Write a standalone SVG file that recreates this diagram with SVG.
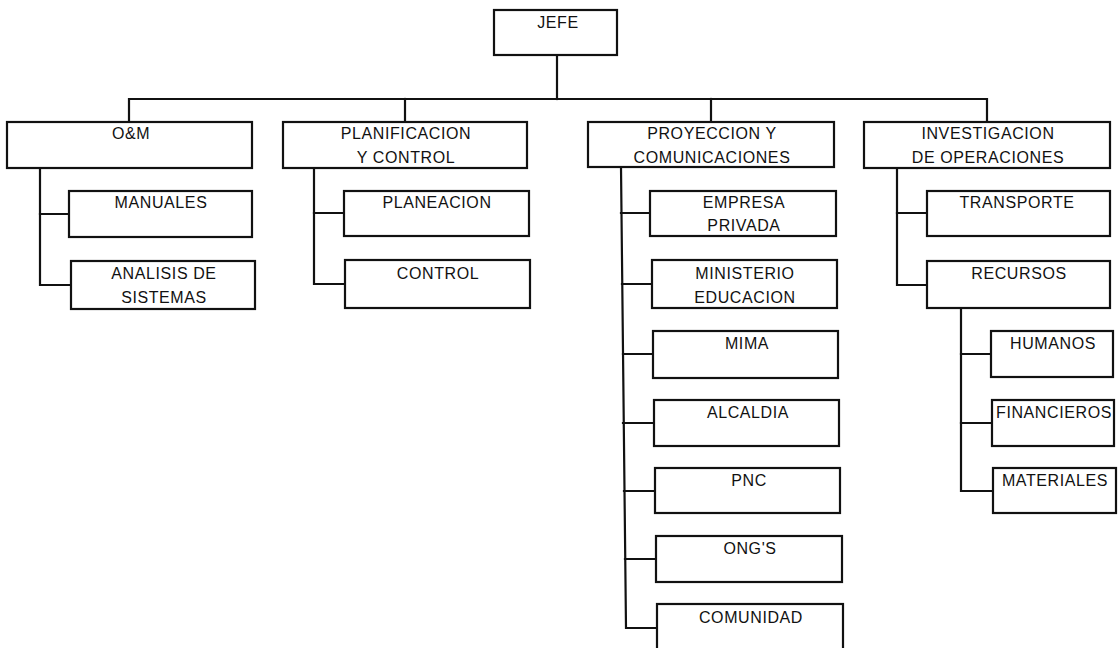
<svg xmlns="http://www.w3.org/2000/svg" width="1120" height="648" viewBox="0 0 1120 648">
  <style>
    .box { fill: #ffffff; stroke: #111111; stroke-width: 2.2; }
    .lbl { font-family: "Liberation Sans", Arial, sans-serif; font-size: 16px; letter-spacing: 0.6px; fill: #111111; text-anchor: middle; }
    .wire { fill: none; stroke: #111111; stroke-width: 2.2; stroke-linecap: square; }
  </style>
  <rect width="1120" height="648" fill="#ffffff"/>

  <!-- connectors -->
  <g id="connectors" class="wire">
    <!-- top level -->
    <path d="M557,55 V99"/>
    <path d="M129,122 V99 H987 V122"/>
    <path d="M405,99 V122"/>
    <path d="M711,99 V122"/>
    <!-- O&M -->
    <path d="M40,168 V285 H71"/>
    <path d="M40,214 H69"/>
    <!-- planificacion -->
    <path d="M314,168 V284 H345"/>
    <path d="M314,213 H344"/>
    <!-- proyeccion -->
    <path d="M621,167 L626,628 H657"/>
    <path d="M621,213 H650"/>
    <path d="M622,284 H652"/>
    <path d="M623,354 H653"/>
    <path d="M623,423 H654"/>
    <path d="M624,491 H655"/>
    <path d="M625,559 H656"/>
    <!-- investigacion -->
    <path d="M897,168 V285 H927"/>
    <path d="M897,213 H927"/>
    <!-- recursos -->
    <path d="M961,308 V491 H993"/>
    <path d="M961,354 H991"/>
    <path d="M961,423 H992"/>
  </g>

  <g id="jefe">
    <rect class="box" x="494" y="10" width="123" height="45"/>
    <text class="lbl" x="558" y="28">JEFE</text>
  </g>

  <g id="om">
    <rect class="box" x="7" y="122" width="245" height="46"/>
    <text class="lbl" x="131" y="139">O&amp;M</text>
  </g>
  <g id="manuales">
    <rect class="box" x="69" y="191" width="183" height="46"/>
    <text class="lbl" x="161" y="208">MANUALES</text>
  </g>
  <g id="analisis">
    <rect class="box" x="71" y="261" width="184" height="48"/>
    <text class="lbl" x="164" y="279">ANALISIS DE</text>
    <text class="lbl" x="164" y="303">SISTEMAS</text>
  </g>

  <g id="planificacion">
    <rect class="box" x="283" y="122" width="244" height="46"/>
    <text class="lbl" x="406" y="139">PLANIFICACION</text>
    <text class="lbl" x="406" y="163">Y CONTROL</text>
  </g>
  <g id="planeacion">
    <rect class="box" x="344" y="191" width="185" height="45"/>
    <text class="lbl" x="437" y="208">PLANEACION</text>
  </g>
  <g id="control">
    <rect class="box" x="345" y="260" width="185" height="48"/>
    <text class="lbl" x="438" y="279">CONTROL</text>
  </g>

  <g id="proyeccion">
    <rect class="box" x="588" y="122" width="246" height="45"/>
    <text class="lbl" x="712" y="139">PROYECCION Y</text>
    <text class="lbl" x="712" y="163">COMUNICACIONES</text>
  </g>
  <g id="empresa">
    <rect class="box" x="650" y="191" width="186" height="45"/>
    <text class="lbl" x="744" y="208">EMPRESA</text>
    <text class="lbl" x="744" y="231">PRIVADA</text>
  </g>
  <g id="ministerio">
    <rect class="box" x="652" y="260" width="185" height="48"/>
    <text class="lbl" x="745" y="279">MINISTERIO</text>
    <text class="lbl" x="745" y="303">EDUCACION</text>
  </g>
  <g id="mima">
    <rect class="box" x="653" y="331" width="185" height="47"/>
    <text class="lbl" x="747" y="349">MIMA</text>
  </g>
  <g id="alcaldia">
    <rect class="box" x="654" y="400" width="185" height="46"/>
    <text class="lbl" x="748" y="418">ALCALDIA</text>
  </g>
  <g id="pnc">
    <rect class="box" x="655" y="468" width="185" height="45"/>
    <text class="lbl" x="749" y="486">PNC</text>
  </g>
  <g id="ongs">
    <rect class="box" x="656" y="536" width="186" height="46"/>
    <text class="lbl" x="750" y="554">ONG'S</text>
  </g>
  <g id="comunidad">
    <rect class="box" x="657" y="604" width="186" height="50"/>
    <text class="lbl" x="751" y="623">COMUNIDAD</text>
  </g>

  <g id="investigacion">
    <rect class="box" x="864" y="122" width="246" height="46"/>
    <text class="lbl" x="988" y="139">INVESTIGACION</text>
    <text class="lbl" x="988" y="163">DE OPERACIONES</text>
  </g>
  <g id="transporte">
    <rect class="box" x="927" y="191" width="183" height="45"/>
    <text class="lbl" x="1017" y="208">TRANSPORTE</text>
  </g>
  <g id="recursos">
    <rect class="box" x="927" y="261" width="183" height="47"/>
    <text class="lbl" x="1019" y="279">RECURSOS</text>
  </g>
  <g id="humanos">
    <rect class="box" x="991" y="331" width="122" height="46"/>
    <text class="lbl" x="1053" y="349">HUMANOS</text>
  </g>
  <g id="financieros">
    <rect class="box" x="992" y="400" width="122" height="46"/>
    <text class="lbl" x="1054" y="418">FINANCIEROS</text>
  </g>
  <g id="materiales">
    <rect class="box" x="993" y="468" width="123" height="45"/>
    <text class="lbl" x="1055" y="486">MATERIALES</text>
  </g>
</svg>
